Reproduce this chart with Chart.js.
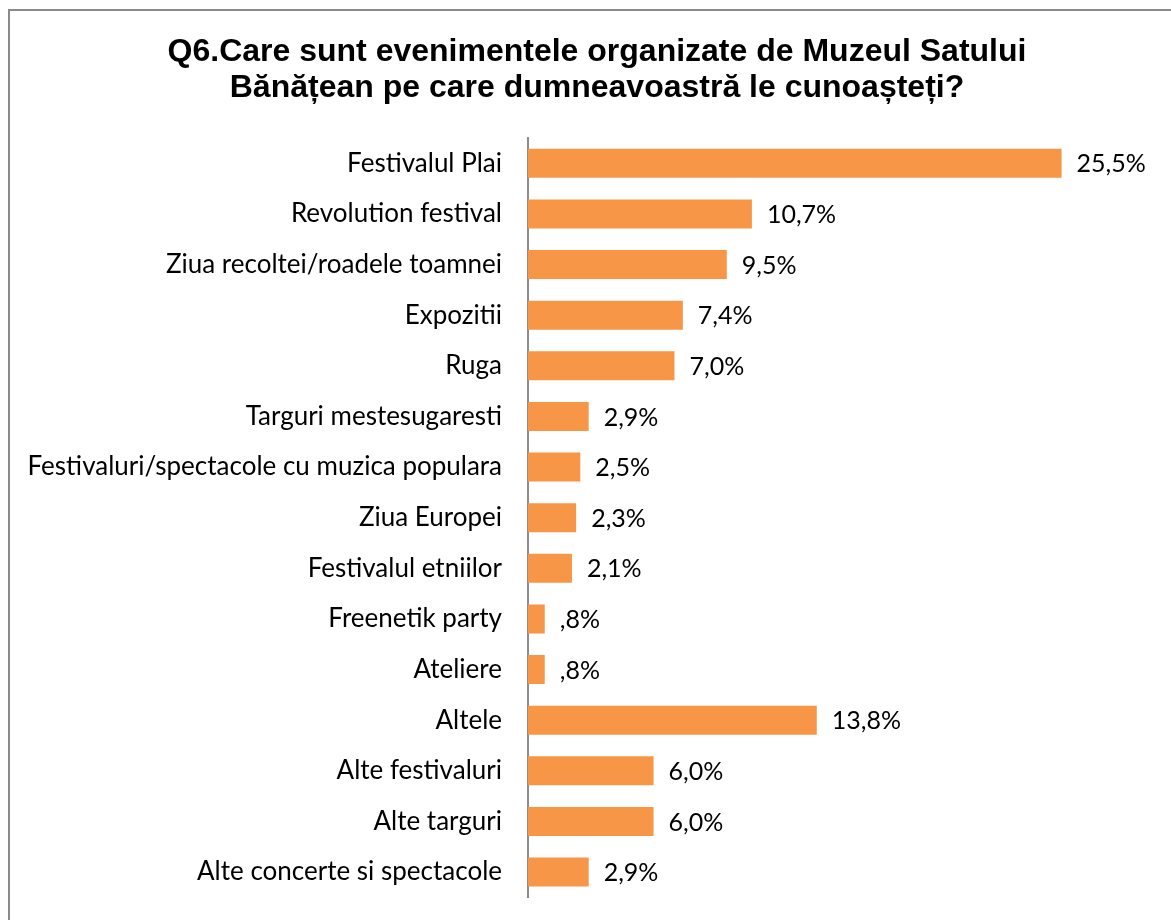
<!DOCTYPE html>
<html>
<head>
<meta charset="utf-8">
<script src="https://cdn.jsdelivr.net/npm/chart.js@4.4.1/dist/chart.umd.min.js"></script>
<style>
  html, body { margin: 0; padding: 0; background: #fff; overflow: hidden; width: 1171px; height: 920px; }
  #wrap { position: absolute; left: 8px; top: 9px; width: 1163px; height: 911px;
          border-top: 2px solid #8a8a8a; border-left: 2px solid #8a8a8a; box-sizing: border-box; }
  canvas { display: block; }
</style>
</head>
<body>
<div id="wrap"><canvas id="c" width="1174" height="928"></canvas></div>
<script>
const titleLines = ["Q6.Care sunt evenimentele organizate de Muzeul Satului", "Bănățean pe care dumneavoastră le cunoașteți?"];
const categories = [
  "Festivalul Plai",
  "Revolution festival",
  "Ziua recoltei/roadele toamnei",
  "Expozitii",
  "Ruga",
  "Targuri mestesugaresti",
  "Festivaluri/spectacole cu muzica populara",
  "Ziua Europei",
  "Festivalul etniilor",
  "Freenetik party",
  "Ateliere",
  "Altele",
  "Alte festivaluri",
  "Alte targuri",
  "Alte concerte si spectacole"
];
const values = [25.5, 10.7, 9.5, 7.4, 7.0, 2.9, 2.5, 2.3, 2.1, 0.8, 0.8, 13.8, 6.0, 6.0, 2.9];
const valueLabels = ["25,5%", "10,7%", "9,5%", "7,4%", "7,0%", "2,9%", "2,5%", "2,3%", "2,1%", ",8%", ",8%", "13,8%", "6,0%", "6,0%", "2,9%"];

const FONT = "Lato, 'Open Sans', sans-serif";
const AXIS_X = 518; // canvas x of the category axis line

const valueLabelPlugin = {
  id: 'valueLabels',
  afterDatasetsDraw(chart) {
    const ctx = chart.ctx;
    const meta = chart.getDatasetMeta(0);
    ctx.save();
    ctx.font = "25px " + FONT;
    ctx.fillStyle = "#000";
    ctx.textAlign = "left";
    ctx.textBaseline = "middle";
    meta.data.forEach((bar, i) => {
      ctx.fillText(valueLabels[i], bar.x + 15, bar.y + 1);
    });
    ctx.restore();
  }
};

new Chart(document.getElementById('c'), {
  type: 'bar',
  data: {
    labels: categories,
    datasets: [{
      data: values,
      backgroundColor: '#F79646',
      borderWidth: 0,
      barPercentage: 0.573,
      categoryPercentage: 1.0
    }]
  },
  options: {
    indexAxis: 'y',
    responsive: false,
    animation: false,
    layout: { padding: { left: 0, right: 0, top: 0, bottom: 0 } },
    plugins: {
      legend: { display: false },
      tooltip: { enabled: false },
      title: {
        display: true,
        text: titleLines,
        color: '#000',
        font: { family: "'Liberation Sans', Arial, sans-serif", size: 32, weight: 'bold', lineHeight: 36/32 },
        padding: { top: 23, bottom: 32 }
      }
    },
    scales: {
      x: {
        display: false,
        min: 0,
        max: 31.35
      },
      y: {
        grid: { display: false, drawTicks: false },
        border: { display: true, color: '#8c8c8c', width: 2 },
        ticks: {
          color: '#000',
          font: { family: FONT, size: 26 },
          padding: 26,
          autoSkip: false
        },
        afterFit(scale) { scale.width = AXIS_X; }
      }
    }
  },
  plugins: [valueLabelPlugin]
});
</script>
</body>
</html>
